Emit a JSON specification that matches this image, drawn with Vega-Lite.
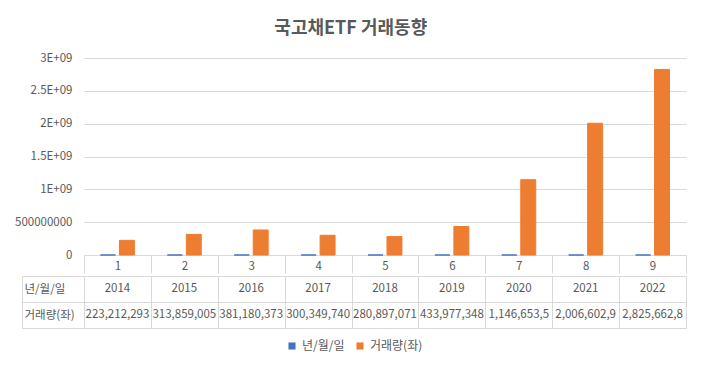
{
  "$schema": "https://vega.github.io/schema/vega-lite/v6.json",
  "background": "white",
  "padding": {"left": 14, "top": 20, "right": 10, "bottom": 5},
  "title": {"text": "국고채ETF 거래동향", "fontSize": 18, "font": "Noto Sans CJK KR", "fontWeight": "bold", "color": "#595959", "anchor": "middle", "offset": 14},
  "config": {"font": "Noto Sans CJK KR"},
  "data": {"values": [
    {"cat": 1, "series": "년/월/일", "value": 2014, "text": "2014"},
    {"cat": 2, "series": "년/월/일", "value": 2015, "text": "2015"},
    {"cat": 3, "series": "년/월/일", "value": 2016, "text": "2016"},
    {"cat": 4, "series": "년/월/일", "value": 2017, "text": "2017"},
    {"cat": 5, "series": "년/월/일", "value": 2018, "text": "2018"},
    {"cat": 6, "series": "년/월/일", "value": 2019, "text": "2019"},
    {"cat": 7, "series": "년/월/일", "value": 2020, "text": "2020"},
    {"cat": 8, "series": "년/월/일", "value": 2021, "text": "2021"},
    {"cat": 9, "series": "년/월/일", "value": 2022, "text": "2022"},
    {"cat": 1, "series": "거래량(좌)", "value": 223212293, "text": "223,212,293"},
    {"cat": 2, "series": "거래량(좌)", "value": 313859005, "text": "313,859,005"},
    {"cat": 3, "series": "거래량(좌)", "value": 381180373, "text": "381,180,373"},
    {"cat": 4, "series": "거래량(좌)", "value": 300349740, "text": "300,349,740"},
    {"cat": 5, "series": "거래량(좌)", "value": 280897071, "text": "280,897,071"},
    {"cat": 6, "series": "거래량(좌)", "value": 433977348, "text": "433,977,348"},
    {"cat": 7, "series": "거래량(좌)", "value": 1146653500, "text": "1,146,653,5"},
    {"cat": 8, "series": "거래량(좌)", "value": 2006602900, "text": "2,006,602,9"},
    {"cat": 9, "series": "거래량(좌)", "value": 2825662800, "text": "2,825,662,8"}
  ]},
  "spacing": -5,
  "resolve": {"scale": {"color": "shared", "x": "independent", "y": "independent"}, "legend": {"color": "shared"}},
  "vconcat": [
    {
      "width": 602,
      "height": 197,
      "view": {"stroke": null},
      "mark": {"type": "bar", "strokeWidth": 1},
      "encoding": {
        "x": {"field": "cat", "type": "ordinal", "scale": {"paddingInner": 0, "paddingOuter": 0},
          "axis": {"title": null, "labelAngle": 0, "domainColor": "#d9d9d9", "tickColor": "#d9d9d9", "tickBand": "extent", "tickSize": 18, "labelPadding": -13, "labelColor": "#595959", "labelFontSize": 11.5, "grid": false}},
        "xOffset": {"field": "series", "type": "nominal", "sort": ["년/월/일", "거래량(좌)"], "scale": {"paddingInner": 0.21, "paddingOuter": 0.87}},
        "y": {"field": "value", "type": "quantitative", "scale": {"domain": [0, 3000000000], "nice": false},
          "axis": {"title": null, "values": [0, 500000000, 1000000000, 1500000000, 2000000000, 2500000000, 3000000000],
            "labelExpr": "datum.value == 0 ? '0' : (datum.value < 1000000000 ? '500000000' : (datum.value / 1000000000) + 'E+09')",
            "domain": false, "ticks": false, "labelPadding": 12, "gridColor": "#d9d9d9", "labelColor": "#595959", "labelFontSize": 11.5}},
        "color": {"field": "series", "type": "nominal", "sort": ["년/월/일", "거래량(좌)"],
          "scale": {"domain": ["년/월/일", "거래량(좌)"], "range": ["#4472c4", "#ed7d31"]},
          "legend": {"title": null, "orient": "none", "legendX": 202, "legendY": 282, "direction": "horizontal", "symbolType": "square", "symbolSize": 50, "symbolStrokeWidth": 0, "labelFontSize": 12, "labelColor": "#595959", "columnPadding": 9}},
        "stroke": {"field": "series", "type": "nominal", "scale": {"domain": ["년/월/일", "거래량(좌)"], "range": ["#4472c4", "#ed7d31"]}, "legend": null}
      }
    },
    {
      "width": 602,
      "height": 52,
      "view": {"stroke": "#d9d9d9"},
      "mark": {"type": "text", "font": "Noto Sans CJK KR", "fontSize": 11.5, "color": "#595959"},
      "encoding": {
        "x": {"field": "cat", "type": "ordinal", "scale": {"paddingInner": 0, "paddingOuter": 0},
          "axis": {"title": null, "labels": false, "ticks": false, "domain": false, "grid": true, "tickBand": "extent", "gridColor": "#d9d9d9", "minExtent": 0, "maxExtent": 0}},
        "y": {"field": "series", "type": "nominal", "sort": ["년/월/일", "거래량(좌)"], "scale": {"paddingInner": 0, "paddingOuter": 0},
          "axis": {"title": null, "grid": false, "offset": 62, "domain": true, "domainColor": "#d9d9d9", "ticks": true, "tickBand": "extent", "tickSize": -664, "tickColor": "#d9d9d9", "labelAlign": "left", "labelPadding": 662, "labelColor": "#595959", "labelFontSize": 11.5}},
        "text": {"field": "text"}
      }
    }
  ]
}
